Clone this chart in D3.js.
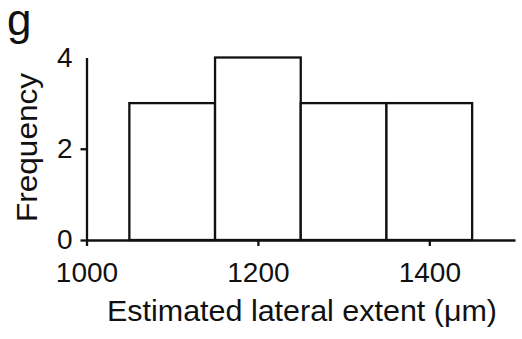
<!DOCTYPE html>
<html>
<head>
<meta charset="utf-8">
<script src="https://cdn.jsdelivr.net/npm/d3@7"></script>
<style>
  html, body { margin: 0; padding: 0; background: #fff; }
  svg { display: block; }
  text { font-family: "Liberation Sans", Arial, Helvetica, sans-serif; fill: #111; }
</style>
</head>
<body>
<svg id="chart" width="522" height="339"></svg>
<script>
// Histogram bins (estimated lateral extent, µm) and counts
const binStarts = [1050, 1150, 1250, 1350];
const binEnds   = [1150, 1250, 1350, 1450];
const counts    = [3, 4, 3, 3];
const xTicks    = [1000, 1200, 1400];
const yTicks    = [0, 2, 4];
const xDomain   = [1000, 1500];
const yDomain   = [0, 4];
const panelLabel = "g";
const xLabel = "Estimated lateral extent (\u03bcm)";
const yLabel = "Frequency";

const svg = d3.select("#chart");
const x = d3.scaleLinear().domain(xDomain).range([86.5, 515]);
const y = d3.scaleLinear().domain(yDomain).range([240, 57.5]);

const bins = binStarts.map((s, i) => ({ x0: s, x1: binEnds[i], n: counts[i] }));

// bars
svg.append("g").selectAll("rect").data(bins).join("rect")
  .attr("x", d => x(d.x0))
  .attr("y", d => y(d.n))
  .attr("width", d => x(d.x1) - x(d.x0))
  .attr("height", d => y(0) - y(d.n))
  .attr("fill", "#fff")
  .attr("stroke", "#111")
  .attr("stroke-width", 2.3);

// x axis
const gx = svg.append("g").attr("transform", `translate(0,${y(0)})`)
  .call(d3.axisBottom(x).tickValues(xTicks).tickFormat(d3.format("d")).tickSize(6).tickSizeOuter(0).tickPadding(16));
// y axis
const gy = svg.append("g").attr("transform", `translate(${x(xDomain[0])},0)`)
  .call(d3.axisLeft(y).tickValues(yTicks).tickFormat(d3.format("d")).tickSize(6).tickSizeOuter(0).tickPadding(8));

[gx, gy].forEach(g => {
  g.select(".domain").attr("stroke", "#111").attr("stroke-width", 2.3);
  g.selectAll(".tick line").attr("stroke", "#111").attr("stroke-width", 2.3);
  g.selectAll(".tick text").attr("font-size", 28).attr("font-family", "Liberation Sans, Arial, sans-serif").attr("fill", "#111");
});
// top tick (4) has no visible tick mark in the reference
gy.selectAll(".tick").filter(d => d === yDomain[1]).select("line").remove();

// axis titles
svg.append("text")
  .attr("x", 302).attr("y", 321)
  .attr("text-anchor", "middle")
  .attr("font-size", 30)
  .attr("textLength", 390).attr("lengthAdjust", "spacingAndGlyphs")
  .text(xLabel);

svg.append("text")
  .attr("transform", "translate(37,147.5) rotate(-90)")
  .attr("text-anchor", "middle")
  .attr("font-size", 29)
  .attr("textLength", 149).attr("lengthAdjust", "spacingAndGlyphs")
  .text(yLabel);

// panel letter
svg.append("text")
  .attr("x", 7).attr("y", 35)
  .attr("font-size", 44)
  .text(panelLabel);
</script>
</body>
</html>
